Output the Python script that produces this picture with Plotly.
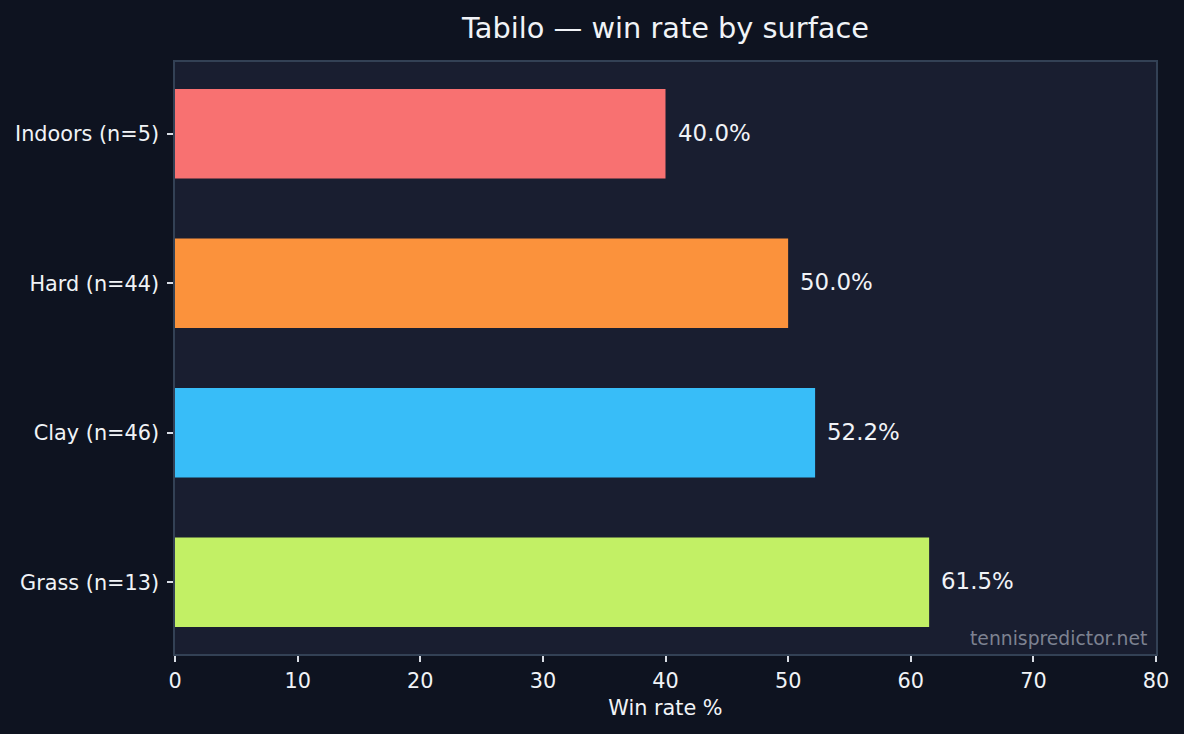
import plotly.graph_objects as go

categories = ["Grass (n=13)", "Clay (n=46)", "Hard (n=44)", "Indoors (n=5)"]
win_rates = [61.5, 52.2, 50.0, 40.0]
bar_colors = ["#c2f065", "#38bdf8", "#fb923c", "#f87171"]
x_ticks = [0, 10, 20, 30, 40, 50, 60, 70, 80]

FONT = "DejaVu Sans"
TXT = "#f1f3f7"

fig = go.Figure()
fig.add_trace(go.Bar(
    y=categories, x=win_rates, orientation="h",
    marker=dict(color=bar_colors, line=dict(width=0)),
    width=0.6, hoverinfo="skip",
))

for c, v in zip(categories, win_rates):
    fig.add_annotation(x=v, y=c, text=f"{v:.1f}%", showarrow=False,
                       xanchor="left", xshift=10, yshift=1,
                       font=dict(family=FONT, size=22.9, color=TXT))

fig.add_annotation(xref="paper", yref="paper", x=1, y=0, xshift=-7, yshift=3,
                   xanchor="right", yanchor="bottom", text="tennispredictor.net",
                   showarrow=False, font=dict(family=FONT, size=18.75, color="#7d8291"))

fig.update_layout(
    width=1184, height=734,
    paper_bgcolor="#0e1320", plot_bgcolor="#191e30",
    margin=dict(l=175, r=28, t=62, b=80),
    showlegend=False,
    title=dict(text="Tabilo — win rate by surface", x=(175 + 1156) / 2 / 1184,
               xanchor="center", y=1 - 28 / 734, yanchor="middle",
               font=dict(family=FONT, size=28.8, color=TXT)),
    font=dict(family=FONT, color=TXT),
    xaxis=dict(range=[0, 80], tickvals=x_ticks, showgrid=False, zeroline=False,
               showline=True, mirror=True, linecolor="#334155", linewidth=1.5,
               ticks="outside", ticklen=6, tickwidth=1.5, tickcolor="#d8dce4",
               ticklabelstandoff=1,
               tickfont=dict(family=FONT, size=20.8, color=TXT),
               title=dict(text="Win rate %", font=dict(family=FONT, size=20.8, color=TXT), standoff=9)),
    yaxis=dict(type="category", categoryorder="array", categoryarray=categories,
               range=[-0.48, 3.48], showgrid=False, zeroline=False,
               showline=True, mirror=True, linecolor="#334155", linewidth=1.5,
               ticks="outside", ticklen=6, tickwidth=1.5, tickcolor="#d8dce4",
               ticklabelstandoff=4,
               tickfont=dict(family=FONT, size=20.8, color=TXT)),
)

fig.write_html("out.html")
